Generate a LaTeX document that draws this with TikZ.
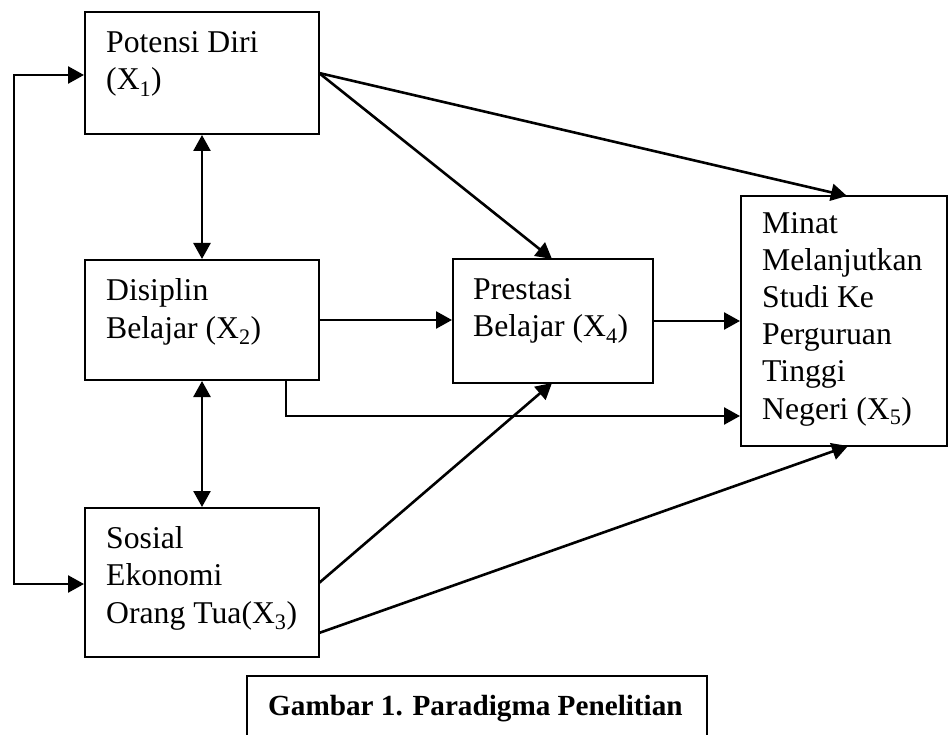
\documentclass[tikz,border=0pt]{standalone}
\usepackage{fontspec}
\setmainfont{Liberation Serif}
\usetikzlibrary{arrows.meta}
\begin{document}
\begin{tikzpicture}[x=1pt,y=-1pt,
  box/.style={draw, line width=2pt, inner sep=0pt},
  lbl/.style={anchor=base west, inner sep=0pt, align=left,
    font=\fontsize{31.7}{37.2}\selectfont},
  conn/.style={line width=2.6pt, -{Triangle[length=16pt,width=17pt]}},
  bconn/.style={line width=2.6pt, {Triangle[length=16pt,width=17pt]}-{Triangle[length=16pt,width=17pt]}}]
\useasboundingbox (0,0) rectangle (948,735);
% boxes
\node[box, minimum width=234pt, minimum height=122pt] (b1) at (202,73) {};
\node[box, minimum width=234pt, minimum height=120pt] (b2) at (202,320) {};
\node[box, minimum width=234pt, minimum height=149pt] (b3) at (202,582.5) {};
\node[box, minimum width=200pt, minimum height=124pt] (b4) at (553,321) {};
\node[box, minimum width=206pt, minimum height=250pt] (b5) at (844,321) {};
% texts (anchored at the baseline of the last line)
\node[lbl] (t1) at (106,90) {Potensi Diri\\(X\textsubscript{1})};
\node[lbl] (t2) at (106,338) {Disiplin\\Belajar (X\textsubscript{2})};
\node[lbl] (t3) at (106,623) {Sosial\\Ekonomi\\Orang Tua(X\textsubscript{3})};
\node[lbl] (t4) at (473,337) {Prestasi\\Belajar (X\textsubscript{4})};
\node[lbl] (t5) at (762,419) {Minat\\Melanjutkan\\Studi Ke\\Perguruan\\Tinggi\\Negeri (X\textsubscript{5})};
% caption
\node[anchor=base west, inner sep=0pt, font=\fontsize{29.2}{34}\selectfont\bfseries] (cap) at (268,715) {Gambar 1. Paradigma Penelitian};
\coordinate (cA) at (247,740);
\coordinate (cB) at (247,676);
\coordinate (cC) at (707,676);
\coordinate (cD) at (707,740);
\draw[line width=2pt] (cA) -- (cB) -- (cC) -- (cD);
% left bracket
\coordinate (L1) at (14,75);
\coordinate (L2) at (14,584);
\draw[bconn] (b1.west |- L1) -- (L1) -- (L2) -- (b3.west |- L2);
% vertical bidirectional
\draw[bconn] (b1.south) -- (b2.north);
\draw[bconn] (b2.south) -- (b3.north);
% horizontal
\draw[conn] (b2.east) -- (b2.east -| b4.west);
\draw[conn] (b4.east) -- (b4.east -| b5.west);
% disiplin lower route
\coordinate (D1) at (286,380);
\coordinate (D2) at (286,416);
\draw[conn] (D1) -- (D2) -- (b5.west |- D2);
% diagonals
\coordinate (S1) at (319,73);
\coordinate (P4t) at (552,259);
\coordinate (P5t) at (847,196);
\draw[conn] (S1) -- (P4t);
\draw[conn] (S1) -- (P5t);
\coordinate (S3a) at (319,583);
\coordinate (S3b) at (319,633);
\coordinate (P4b) at (552,383);
\coordinate (P5b) at (848,446);
\draw[conn] (S3a) -- (P4b);
\draw[conn] (S3b) -- (P5b);
\end{tikzpicture}
\end{document}
